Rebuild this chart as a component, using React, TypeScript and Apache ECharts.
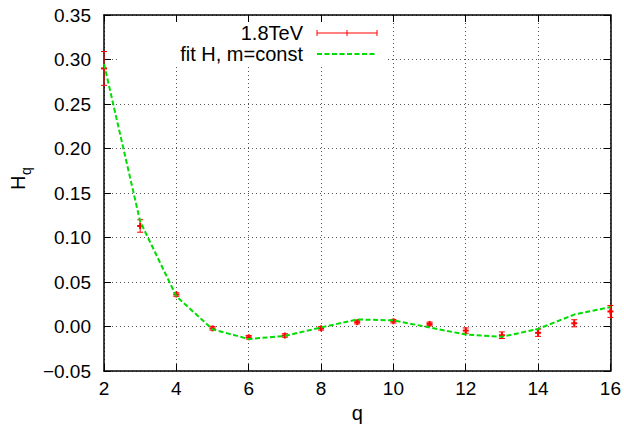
import React, { useEffect, useRef } from "react";
import * as echarts from "echarts";

const qValues = [2, 3, 4, 5, 6, 7, 8, 9, 10, 11, 12, 13, 14, 15, 16];
const hData = [0.29, 0.113, 0.036, -0.002, -0.012, -0.01, -0.002, 0.005, 0.006, 0.003, -0.0045, -0.0097, -0.007, 0.0037, 0.017];
const hErr = [0.019, 0.007, 0.002, 0.002, 0.002, 0.002, 0.002, 0.002, 0.002, 0.002, 0.003, 0.0037, 0.004, 0.004, 0.0067];
const fitData = [0.295, 0.118, 0.034, -0.003, -0.014, -0.0105, -0.001, 0.008, 0.007, -0.001, -0.009, -0.0115, -0.0026, 0.0135, 0.022];
const legendLabels = ["1.8TeV", "fit H, m=const"];
const xName = "q";

const FONT = "Liberation Sans, Arial, Helvetica, sans-serif";

export default function App() {
  const ref = useRef<HTMLDivElement>(null);
  useEffect(() => {
    if (!ref.current) return;
    const chart = echarts.init(ref.current, null, { renderer: "svg" });
    const errRows = qValues.map((q, i) => [q, hData[i], hData[i] - hErr[i], hData[i] + hErr[i]]);
    const fitRows = qValues.map((q, i) => [q, fitData[i]]);
    const fmtY = (v: number) => v.toFixed(2).replace("-", "\u2212");
    const tickStyle = { show: true, inside: true, length: 7, lineStyle: { color: "#000", width: 1 } };
    const axisLineStyle = { show: true, onZero: false, lineStyle: { color: "#000", width: 1.5 } };
    const option: any = {
      animation: false,
      backgroundColor: "#fff",
      textStyle: { fontFamily: FONT },
      grid: { left: 104, right: 13, top: 15, bottom: 56 },
      xAxis: [
        {
          type: "value", min: 2, max: 16, interval: 2,
          name: xName, nameLocation: "middle", nameGap: 27,
          nameTextStyle: { fontSize: 20, color: "#000", fontFamily: FONT },
          axisLine: axisLineStyle,
          axisTick: tickStyle,
          axisLabel: { fontSize: 19, color: "#000", margin: 8, fontFamily: FONT },
          splitLine: { show: true, lineStyle: { color: "#555", type: [1, 3], width: 1 } },
        },
        {
          type: "value", min: 2, max: 16, interval: 2, position: "top",
          axisLine: axisLineStyle,
          axisTick: tickStyle, axisLabel: { show: false }, splitLine: { show: false },
        },
      ],
      yAxis: [
        {
          type: "value", min: -0.05, max: 0.35, interval: 0.05,
          axisLine: axisLineStyle,
          axisTick: tickStyle,
          axisLabel: { fontSize: 19, color: "#000", margin: 13, formatter: fmtY, fontFamily: FONT },
          splitLine: { show: true, lineStyle: { color: "#555", type: [1, 3], width: 1 } },
        },
        {
          type: "value", min: -0.05, max: 0.35, interval: 0.05, position: "right",
          axisLine: axisLineStyle,
          axisTick: tickStyle, axisLabel: { show: false }, splitLine: { show: false },
        },
      ],
      graphic: [
        { type: "rect", z: 1, shape: { x: 120, y: 22, width: 266, height: 43 }, style: { fill: "#fff" } },
        { type: "text", z: 5, x: 303, y: 33, style: { text: legendLabels[0], font: `20px ${FONT}`, fill: "#000", textAlign: "right", textVerticalAlign: "middle" } },
        { type: "text", z: 5, x: 303, y: 54, style: { text: legendLabels[1], font: `20px ${FONT}`, fill: "#000", textAlign: "right", textVerticalAlign: "middle" } },
        { type: "line", z: 5, shape: { x1: 317, y1: 33, x2: 377, y2: 33 }, style: { stroke: "#f00", lineWidth: 1 } },
        { type: "line", z: 5, shape: { x1: 317, y1: 30, x2: 317, y2: 36 }, style: { stroke: "#f00", lineWidth: 1 } },
        { type: "line", z: 5, shape: { x1: 377, y1: 30, x2: 377, y2: 36 }, style: { stroke: "#f00", lineWidth: 1 } },
        { type: "line", z: 5, shape: { x1: 347, y1: 30, x2: 347, y2: 36 }, style: { stroke: "#f00", lineWidth: 1 } },
        { type: "line", z: 5, shape: { x1: 317, y1: 54, x2: 377, y2: 54 }, style: { stroke: "#00dd00", lineWidth: 2, lineDash: [5, 2.5] } },
        {
          type: "group", x: 26, y: 190, rotation: Math.PI / 2, z: 5,
          children: [
            { type: "text", x: 0, y: -8, style: { text: "H", font: `20px ${FONT}`, fill: "#000", textAlign: "left", textVerticalAlign: "middle" } },
            { type: "text", x: 15, y: 0, style: { text: "q", font: `14px ${FONT}`, fill: "#000", textAlign: "left", textVerticalAlign: "middle" } },
          ],
        },
      ],
      series: [
        {
          type: "custom", name: legendLabels[0], xAxisIndex: 0, yAxisIndex: 0, z: 3,
          encode: { x: 0, y: [1, 2, 3] },
          data: errRows,
          renderItem: (params: any, api: any) => {
            const x = api.value(0);
            const p = api.coord([x, api.value(1)]);
            const lo = api.coord([x, api.value(2)]);
            const hi = api.coord([x, api.value(3)]);
            const st = { stroke: "#f00", lineWidth: 1 };
            const cw = 3;
            return {
              type: "group",
              children: [
                { type: "line", shape: { x1: lo[0], y1: lo[1], x2: hi[0], y2: hi[1] }, style: st },
                { type: "line", shape: { x1: lo[0] - cw, y1: lo[1], x2: lo[0] + cw, y2: lo[1] }, style: st },
                { type: "line", shape: { x1: hi[0] - cw, y1: hi[1], x2: hi[0] + cw, y2: hi[1] }, style: st },
                { type: "line", shape: { x1: p[0] - 3, y1: p[1], x2: p[0] + 3, y2: p[1] }, style: { stroke: "#f00", lineWidth: 2 } },
                { type: "line", shape: { x1: p[0], y1: p[1] - 3, x2: p[0], y2: p[1] + 3 }, style: { stroke: "#f00", lineWidth: 2 } },
              ],
            };
          },
        },
        {
          type: "line", name: legendLabels[1], xAxisIndex: 0, yAxisIndex: 0, z: 4,
          data: fitRows, showSymbol: false, symbol: "none",
          lineStyle: { color: "#00dd00", width: 2, type: [5, 2.5] },
        },
      ],
    };
    chart.setOption(option);
    return () => chart.dispose();
  }, []);
  return <div ref={ref} style={{ width: 624, height: 428, position: "absolute", left: 0, top: 0 }} />;
}
